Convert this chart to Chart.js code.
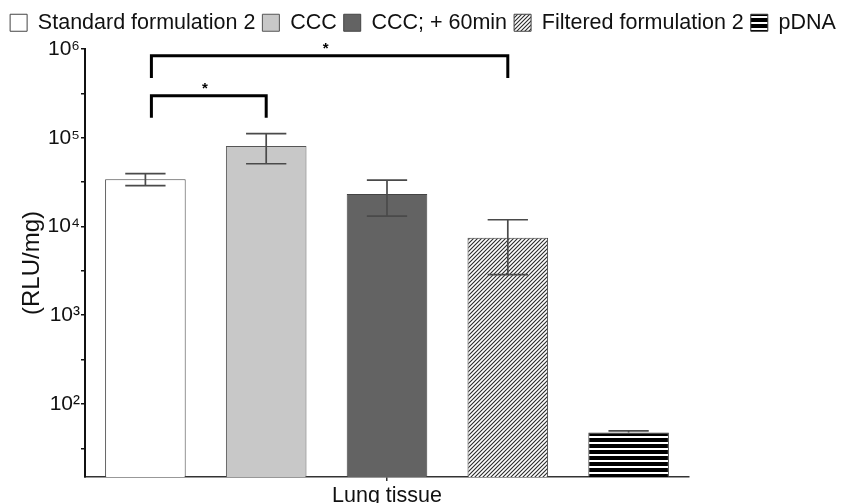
<!DOCTYPE html>
<html>
<head>
<meta charset="utf-8">
<script src="https://cdn.jsdelivr.net/npm/chart.js@4"></script>
<style>
html,body{margin:0;padding:0;background:#fff;}
#wrap{width:846px;height:503px;position:relative;}
</style>
</head>
<body>
<div id="wrap"><canvas id="c" width="846" height="503"></canvas></div>
<script>
// ---- data ----
const categories = ['Lung tissue'];
const seriesLabels = ['Standard formulation 2', 'CCC', 'CCC; + 60min', 'Filtered formulation 2', 'pDNA'];
const means = [34000, 80600, 23200, 7460, 47.5];
const errUpper = [39300, 111000, 33300, 11900, 49.6];
const errLower = [28800, 50900, 13100, 2860, 47.5];
const yMajorTicks = [1e2, 1e3, 1e4, 1e5, 1e6];
const yMinorTicks = [31.6, 316, 3160, 31600, 316000];
const yMin = 15;
const yMax = 1e6;
const bracketFrom = [0, 0];
const bracketTo = [3, 1];
const bracketTop = [8.4e5, 2.98e5];
const bracketDrop = [4.7e5, 1.68e5];
const bracketLabel = ['*', '*'];

// ---- patterns ----
function hatchPattern() {
  const s = 4, cv = document.createElement('canvas');
  cv.width = s; cv.height = s;
  const g = cv.getContext('2d');
  g.fillStyle = '#ffffff'; g.fillRect(0, 0, s, s);
  g.strokeStyle = '#2a2a2a'; g.lineWidth = 1.1;
  g.beginPath();
  g.moveTo(-1, s + 1); g.lineTo(s + 1, -1);
  g.moveTo(-1, 1); g.lineTo(1, -1);
  g.moveTo(s - 1, s + 1); g.lineTo(s + 1, s - 1);
  g.stroke();
  return g.createPattern(cv, 'repeat');
}
function stripePattern() {
  const cv = document.createElement('canvas');
  cv.width = 4; cv.height = 6;
  const g = cv.getContext('2d');
  g.fillStyle = '#000000'; g.fillRect(0, 0, 4, 4);
  g.fillStyle = '#ffffff'; g.fillRect(0, 4, 4, 2);
  return g.createPattern(cv, 'repeat');
}
const fills = ['#ffffff', '#c8c8c8', '#636363', hatchPattern(), stripePattern()];
const borders = ['#444444', '#555555', '#444444', '#444444', '#333333'];

const FONT = '"Liberation Sans", Arial, sans-serif';
const SUP = {'0':'\u2070','1':'\u00b9','2':'\u00b2','3':'\u00b3','4':'\u2074','5':'\u2075','6':'\u2076','7':'\u2077','8':'\u2078','9':'\u2079'};

const errorBars = {
  id: 'errorBars',
  afterDatasetsDraw(chart) {
    const ctx = chart.ctx, y = chart.scales.y;
    ctx.save();
    ctx.strokeStyle = '#4a4a4a';
    ctx.lineWidth = 1.7;
    chart.data.datasets.forEach((ds, i) => {
      const bar = chart.getDatasetMeta(i).data[0];
      if (!bar) return;
      const x = bar.x, hw = bar.width / 4;
      const yh = y.getPixelForValue(errUpper[i]);
      const yl = y.getPixelForValue(errLower[i]);
      ctx.beginPath();
      ctx.moveTo(x, yh); ctx.lineTo(x, yl);
      ctx.moveTo(x - hw, yh); ctx.lineTo(x + hw, yh);
      if (errLower[i] < means[i]) { ctx.moveTo(x - hw, yl); ctx.lineTo(x + hw, yl); }
      ctx.stroke();
    });
    ctx.restore();
  }
};

const brackets = {
  id: 'brackets',
  afterDatasetsDraw(chart) {
    const ctx = chart.ctx, y = chart.scales.y;
    ctx.save();
    ctx.strokeStyle = '#000';
    ctx.lineWidth = 3;
    ctx.lineCap = 'butt';
    ctx.fillStyle = '#000';
    ctx.font = 'bold 15px ' + FONT;
    ctx.textAlign = 'center';
    ctx.textBaseline = 'middle';
    for (let k = 0; k < bracketFrom.length; k++) {
      const x1 = chart.getDatasetMeta(bracketFrom[k]).data[0].x + 6;
      const x2 = chart.getDatasetMeta(bracketTo[k]).data[0].x;
      const yt = y.getPixelForValue(bracketTop[k]);
      const yd = y.getPixelForValue(bracketDrop[k]);
      ctx.beginPath();
      ctx.moveTo(x1, yd); ctx.lineTo(x1, yt); ctx.lineTo(x2, yt); ctx.lineTo(x2, yd);
      ctx.stroke();
      ctx.fillText(bracketLabel[k], (x1 + x2) / 2 - 4, yt - 7);
    }
    ctx.restore();
  }
};

const legendHeight = {
  id: 'legendHeight',
  beforeLayout(chart) {
    const lg = chart.legend;
    if (lg && !lg._fixed) {
      const f = lg.fit.bind(lg);
      lg.fit = function () { this.maxWidth = 5000; f(); this.height = 49; };
      lg._fixed = true;
    }
  },
  afterLayout(chart) {
    const lg = chart.legend;
    if (lg) { lg.top += 5; lg.bottom += 5; }
  }
};

new Chart(document.getElementById('c'), {
  type: 'bar',
  data: {
    labels: categories,
    datasets: seriesLabels.map((lab, i) => ({
      label: lab,
      data: [means[i]],
      backgroundColor: fills[i],
      borderColor: borders[i],
      borderWidth: 1,
      categoryPercentage: 1,
      barPercentage: 0.667
    }))
  },
  options: {
    responsive: false,
    animation: false,
    devicePixelRatio: 1,
    layout: { padding: 0 },
    plugins: {
      tooltip: { enabled: false },
      legend: {
        position: 'top',
        labels: {
          boxWidth: 17, boxHeight: 17, padding: 7,
          color: '#111',
          font: { family: FONT, size: 21.5 }
        }
      }
    },
    scales: {
      x: {
        type: 'category',
        offset: true,
        border: { display: true, color: '#333', width: 1.5 },
        grid: { offset: false, drawOnChartArea: false, drawTicks: true, tickLength: 4, color: '#333', lineWidth: 1.5 },
        ticks: { color: '#111', font: { family: FONT, size: 21.5 }, padding: 2, maxRotation: 0 },
        afterFit(s) { s.height = 26; }
      },
      y: {
        type: 'logarithmic',
        min: yMin,
        max: yMax,
        border: { display: true, color: '#111', width: 2 },
        grid: { drawOnChartArea: false, drawTicks: true, tickLength: 4, color: '#111', lineWidth: 1.5 },
        title: { display: true, text: '(RLU/mg)', color: '#111', font: { family: FONT, size: 24 }, padding: { top: 18, bottom: 0 } },
        afterBuildTicks(s) {
          const all = yMajorTicks.concat(yMinorTicks).sort((a, b) => a - b);
          s.ticks = all.map(v => ({ value: v, major: yMajorTicks.includes(v) }));
        },
        ticks: {
          color: '#111',
          padding: 1,
          font: { family: FONT, size: 21 },
          autoSkip: false,
          callback(v) {
            if (!yMajorTicks.includes(v)) return '';
            const e = String(Math.round(Math.log10(v)));
            return '10' + e.split('').map(d => SUP[d]).join('');
          }
        },
        afterFit(s) { s.width = 85; }
      },
      rightSpace: {
        type: 'linear',
        axis: 'y',
        position: 'right',
        display: true,
        grid: { display: false, drawTicks: false },
        border: { display: false },
        ticks: { display: false },
        afterFit(s) { s.width = 157; }
      }
    }
  },
  plugins: [legendHeight, errorBars, brackets]
});
</script>
</body>
</html>
